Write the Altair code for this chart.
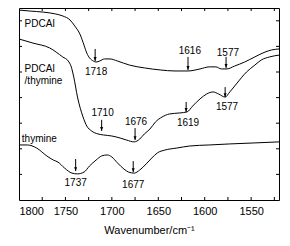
import altair as alt
import pandas as pd

FONT = "Liberation Sans"

# --- spectra (wavenumber, arbitrary intensity) ---
wn_pdcai = [1800, 1788, 1774, 1761, 1753, 1745, 1740, 1734, 1730, 1727, 1724, 1720, 1717,
            1713, 1708, 1702, 1694, 1681, 1665, 1648, 1632, 1618, 1605, 1595, 1588, 1582,
            1576, 1568, 1557, 1546, 1535, 1528, 1520]
ab_pdcai = [7.42, 7.38, 7.34, 7.27, 7.19, 7.03, 6.80, 6.45, 6.05, 5.74, 5.55, 5.43, 5.39,
            5.43, 5.51, 5.51, 5.43, 5.27, 5.16, 5.08, 5.04, 5.04, 5.12, 5.20, 5.20, 5.12,
            5.12, 5.23, 5.39, 5.59, 5.78, 5.86, 5.90]

wn_mix = [1800, 1785, 1767, 1753, 1747, 1744, 1741, 1737, 1731, 1727, 1722, 1715, 1709,
          1700, 1691, 1684, 1676, 1670, 1665, 1659, 1653, 1646, 1638, 1627, 1619, 1613,
          1605, 1598, 1591, 1585, 1578, 1573, 1566, 1555, 1546, 1539, 1530, 1520]
ab_mix = [6.29, 6.13, 5.94, 5.59, 5.43, 5.23, 4.80, 4.02, 3.24, 2.89, 2.70, 2.58, 2.54,
          2.50, 2.42, 2.34, 2.27, 2.38, 2.58, 2.77, 3.05, 3.24, 3.36, 3.40, 3.44, 3.67,
          3.95, 4.14, 4.22, 4.14, 4.02, 4.22, 4.53, 5.00, 5.27, 5.47, 5.59, 5.66]

wn_thy = [1800, 1791, 1781, 1770, 1763, 1758, 1751, 1743, 1737, 1730, 1724, 1717, 1711,
          1705, 1700, 1694, 1687, 1682, 1676, 1670, 1663, 1657, 1651, 1643, 1630, 1616,
          1595, 1573, 1546, 1520]
ab_thy = [2.15, 2.15, 2.03, 1.72, 1.56, 1.48, 1.25, 1.05, 1.02, 1.09, 1.33, 1.56, 1.72,
          1.76, 1.68, 1.45, 1.21, 1.09, 1.05, 1.17, 1.41, 1.64, 1.84, 1.95, 2.03, 2.11,
          2.15, 2.19, 2.23, 2.27]

# --- peak annotations ---
peak_text = ["1718", "1616", "1577", "1710", "1676", "1619", "1577", "1737", "1677"]
peak_text_w = [1717, 1616, 1575, 1710, 1674, 1618, 1576, 1739, 1677]
peak_text_v = [5.00, 5.82, 5.74, 3.40, 3.05, 2.99, 3.63, 0.66, 0.59]
arrow_w = [1718, 1618, 1577, 1711, 1675, 1620, 1578, 1739, 1677]
arrow_top = [5.90, 5.59, 5.59, 3.13, 2.81, 3.83, 4.41, 1.60, 1.52]
arrow_tip = [5.43, 5.08, 5.16, 2.70, 2.34, 3.44, 4.02, 1.13, 1.09]

# --- curve names ---
name_text = ["PDCAI", "PDCAI", "/thymine", "thymine"]
name_w = [1794, 1794, 1794, 1797]
name_v = [6.88, 5.12, 4.65, 2.38]

# --- axis ticks ---
x_labels = [1800, 1750, 1700, 1650, 1600, 1550]
x_ticks = [1775, 1750, 1725, 1700, 1675, 1650, 1625, 1600, 1575, 1550, 1525]
y_ticks = [1, 2, 3, 4, 5, 6, 7]

W, H = 260, 192

curves = pd.concat([
    pd.DataFrame({"w": wn_pdcai, "v": ab_pdcai, "s": "PDCAI"}),
    pd.DataFrame({"w": wn_mix, "v": ab_mix, "s": "PDCAI/thymine"}),
    pd.DataFrame({"w": wn_thy, "v": ab_thy, "s": "thymine"}),
])
peaks = pd.DataFrame({"w": peak_text_w, "v": peak_text_v, "t": peak_text})
arrows = pd.DataFrame({"w": arrow_w, "v": arrow_top, "v2": arrow_tip})
names = pd.DataFrame({"w": name_w, "v": name_v, "t": name_text})
xt = pd.DataFrame({"w": x_ticks})
yt = pd.DataFrame({"v": y_ticks})

X = alt.X("w:Q",
          scale=alt.Scale(domain=[1520, 1800], reverse=True, nice=False, zero=False),
          axis=alt.Axis(values=x_labels, format="d", title="Wavenumber/cm⁻¹", ticks=False,
                        domain=False, grid=False, labelFontSize=11, labelPadding=5,
                        titleFontSize=11, titleFontWeight="normal", titlePadding=8,
                        labelColor="black", titleColor="black", labelFont=FONT,
                        titleFont=FONT))
Y = alt.Y("v:Q", scale=alt.Scale(domain=[0, 7.5], nice=False, zero=False), axis=None)

lines = alt.Chart(curves).mark_line(color="black", strokeWidth=1, interpolate="monotone").encode(
    x=X, y=Y, detail="s:N")

arrow_lines = alt.Chart(arrows).mark_rule(color="black", strokeWidth=1).encode(
    x=X, y=Y, y2="v2:Q")
arrow_heads = alt.Chart(arrows).mark_point(
    shape="M-1,-2.6L1,-2.6L0,0Z", filled=True, size=9, color="black", opacity=1, strokeWidth=0
).encode(x=X, y=alt.Y("v2:Q", scale=alt.Scale(domain=[0, 7.5], nice=False, zero=False), axis=None))

peak_labels = alt.Chart(peaks).mark_text(font=FONT, fontSize=10, color="black",
                                         align="center", baseline="middle").encode(
    x=X, y=Y, text="t:N")
name_labels = alt.Chart(names).mark_text(font=FONT, fontSize=10, color="black",
                                         align="left", baseline="middle").encode(
    x=X, y=Y, text="t:N")

top_ticks = alt.Chart(xt).mark_rule(color="black", strokeWidth=1).encode(
    x=X, y=alt.value(0), y2=alt.value(3))
bot_ticks = alt.Chart(xt).mark_rule(color="black", strokeWidth=1).encode(
    x=X, y=alt.value(H - 3), y2=alt.value(H))
left_ticks = alt.Chart(yt).mark_rule(color="black", strokeWidth=1).encode(
    y=Y, x=alt.value(0), x2=alt.value(3))
right_ticks = alt.Chart(yt).mark_rule(color="black", strokeWidth=1).encode(
    y=Y, x=alt.value(W - 3), x2=alt.value(W))

chart = alt.layer(
    lines, arrow_lines, arrow_heads, peak_labels, name_labels,
    top_ticks, bot_ticks, left_ticks, right_ticks
).properties(
    width=W, height=H,
    autosize=alt.AutoSizeParams(type="none"),
    padding={"left": 11, "top": 0, "right": 3, "bottom": 38},
).configure_view(stroke="black", strokeWidth=1)

chart.save("out.html", embed_options={"renderer": "svg", "actions": False})
